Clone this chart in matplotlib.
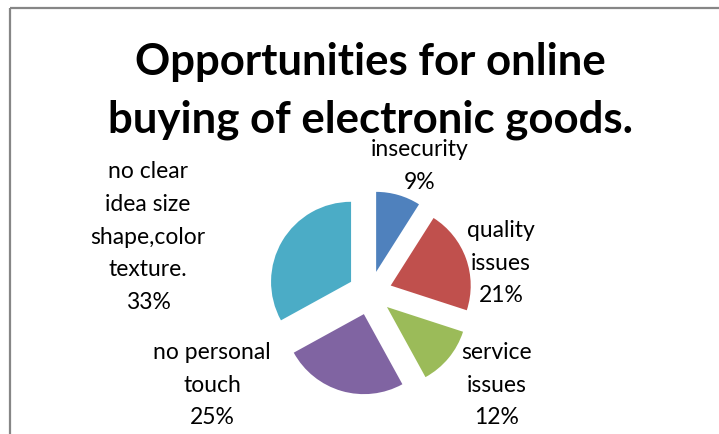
import matplotlib.pyplot as plt
from matplotlib.patches import Rectangle

# Survey shares (percent)
categories = ['insecurity', 'quality\nissues', 'service\nissues',
              'no personal\ntouch', 'no clear\nidea size\nshape,color\ntexture.']
shares = [9, 21, 12, 25, 33]
colors = ['#4F81BD', '#C0504D', '#9BBB59', '#8064A2', '#4BACC6']

# label anchor points (pixels, from top-left)
label_pos = [(420, 166), (501, 263), (497, 385), (212, 385), (148, 237)]

plt.rcParams['font.family'] = ['Lato', 'DejaVu Sans']

fig = plt.figure(figsize=(7.19, 4.34), dpi=100)
ax = fig.add_axes([0, 0, 1, 1])

ax.pie(shares, colors=colors, center=(370, 293), radius=80,
       startangle=-90, counterclock=True, explode=[22] * len(shares),
       wedgeprops={'linewidth': 0})

# pixel-like coordinates, y growing downward
ax.set_xlim(0, 719)
ax.set_ylim(434, 0)
ax.set_aspect('equal')
ax.axis('off')

# chart frame
ax.add_patch(Rectangle((10, 8), 760, 480, fill=False, edgecolor='#868686',
                       linewidth=1.6, clip_on=False))

for name, val, (x, y) in zip(categories, shares, label_pos):
    ax.text(x, y, f'{name}\n{val}%', ha='center', va='center',
            fontsize=16.5, linespacing=1.68, color='black')

ax.text(370, 91, 'Opportunities for online\nbuying of electronic goods.',
        ha='center', va='center', fontsize=31.5, fontweight='bold',
        linespacing=1.5)

fig.savefig('out.png', dpi=100)
